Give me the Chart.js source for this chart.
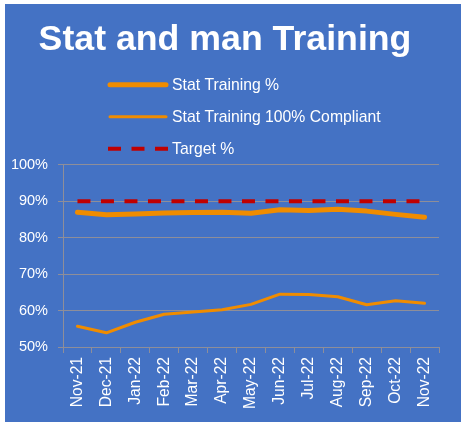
<html lang="en">
<head>
    <meta charset="UTF-8">
    <title>Stat and man Training</title>
    <script src="https://cdn.jsdelivr.net/npm/chart.js"></script>
    <style>
        body { margin: 0; background: #fff; }
        .box { position: absolute; left: 5px; top: 4px; width: 456px; height: 418px; background: #4472C4; }
    </style>
</head>
<body>
    <div class="box">
        <canvas id="myChart"></canvas>
    </div>
<script>
    var months = ['Nov-21', 'Dec-21', 'Jan-22', 'Feb-22', 'Mar-22', 'Apr-22', 'May-22', 'Jun-22', 'Jul-22', 'Aug-22', 'Sep-22', 'Oct-22', 'Nov-22'];
    var statTraining = [87.0, 86.3, 86.5, 86.8, 86.9, 87.0, 86.7, 87.7, 87.5, 87.8, 87.3, 86.4, 85.6];
    var statCompliant = [55.7, 53.9, 56.8, 59.0, 59.6, 60.2, 61.7, 64.5, 64.4, 63.8, 61.6, 62.7, 62.0];
    var target = [90, 90, 90, 90, 90, 90, 90, 90, 90, 90, 90, 90, 90];
    var yTicks = [50, 60, 70, 80, 90, 100];

    var orange = '#F08C00';
    var red = '#C00000';
    var grid = '#8E8E99';
    var font = '"Liberation Sans", Arial, sans-serif';

    // legend drawn as a vertical list under the title
    var listLegend = {
        id: 'listLegend',
        afterDraw: function (chart) {
            var ctx = chart.ctx;
            var top = chart.chartArea.top;
            var rows = [top - 80, top - 48, top - 16];
            ctx.save();
            chart.data.datasets.forEach(function (ds, i) {
                var y = rows[i];
                ctx.beginPath();
                ctx.strokeStyle = ds.borderColor;
                ctx.lineWidth = ds.borderWidth;
                ctx.lineCap = ds.borderDash ? 'butt' : 'round';
                ctx.setLineDash(ds.borderDash || []);
                ctx.moveTo(ds.borderDash ? 103 : 105, y);
                ctx.lineTo(ds.borderDash ? 163 : 161, y);
                ctx.stroke();
                ctx.setLineDash([]);
                ctx.fillStyle = '#fff';
                ctx.font = '15.75px ' + font;
                ctx.textBaseline = 'middle';
                ctx.textAlign = 'left';
                ctx.fillText(ds.label, 167, y + 1);
            });
            ctx.restore();
        }
    };

    const ctx = document.getElementById('myChart').getContext('2d');
    let myChart = new Chart(ctx, {
        type: 'line',
        data: {
            labels: months,
            datasets: [{
                label: 'Stat Training %',
                data: statTraining,
                borderColor: orange,
                borderWidth: 5,
                borderCapStyle: 'round',
                borderJoinStyle: 'round',
                pointRadius: 0,
                tension: 0
            }, {
                label: 'Stat Training 100% Compliant',
                data: statCompliant,
                borderColor: orange,
                borderWidth: 3,
                borderCapStyle: 'round',
                borderJoinStyle: 'round',
                pointRadius: 0,
                tension: 0
            }, {
                label: 'Target %',
                data: target,
                borderColor: red,
                borderWidth: 4,
                borderDash: [13, 10.5],
                pointRadius: 0
            }]
        },
        options: {
            responsive: true,
            maintainAspectRatio: false,
            animation: false,
            layout: { padding: { left: 6, right: 22, bottom: 9, top: 0 } },
            plugins: {
                legend: { display: false },
                tooltip: { enabled: false },
                title: {
                    display: true,
                    text: 'Stat and man Training',
                    color: '#fff',
                    font: { family: font, size: 35.7, weight: 'bold' },
                    padding: { top: 15, bottom: 103 }
                }
            },
            scales: {
                x: {
                    offset: true,
                    grid: { offset: true, drawOnChartArea: false, drawTicks: true, tickLength: 6, color: grid },
                    border: { color: grid, width: 1 },
                    ticks: {
                        color: '#fff',
                        minRotation: 90,
                        maxRotation: 90,
                        padding: 4,
                        font: { family: font, size: 15.6 }
                    }
                },
                y: {
                    min: 50,
                    max: 100,
                    afterBuildTicks: function (axis) {
                        axis.ticks = yTicks.map(function (v) { return { value: v }; });
                    },
                    afterFit: function (axis) { axis.width = 52; },
                    grid: { color: grid, tickLength: 5 },
                    border: { color: grid, width: 1 },
                    ticks: {
                        color: '#fff',
                        padding: 10,
                        font: { family: font, size: 14.5 },
                        callback: function (v) { return v + '%'; }
                    }
                }
            }
        },
        plugins: [listLegend]
    });
</script>
</body>
</html>
